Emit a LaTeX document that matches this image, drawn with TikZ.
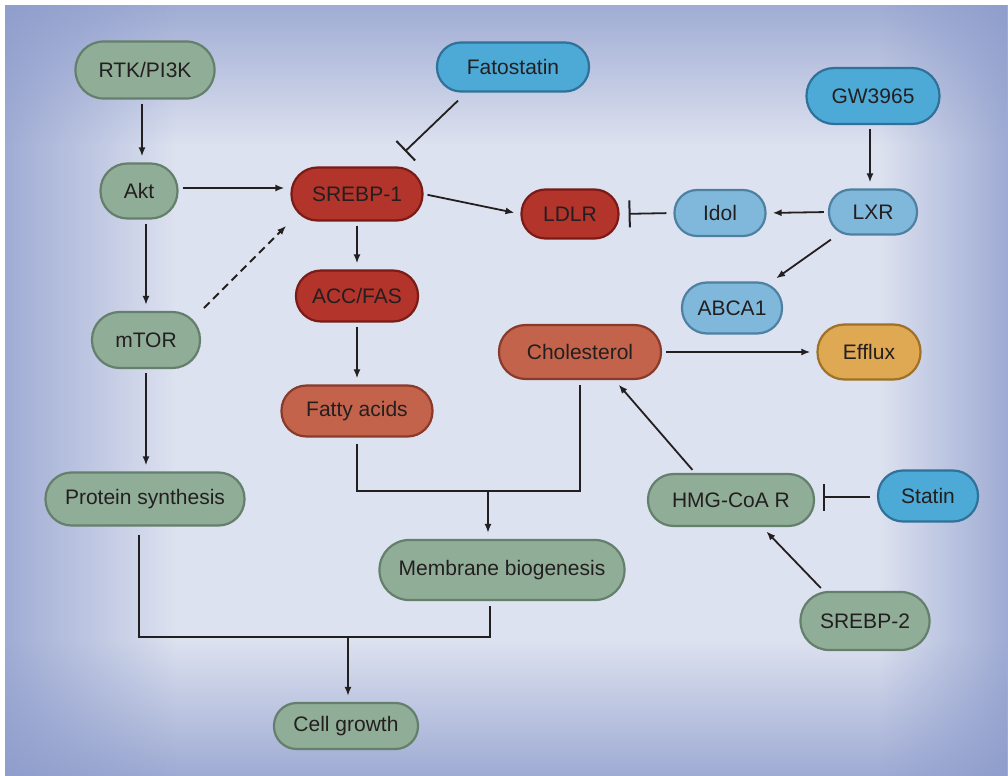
\documentclass[tikz,border=0pt]{standalone}
\usepackage{fontspec}
\setmainfont{Liberation Sans}
\usetikzlibrary{arrows.meta,fadings,calc}
\definecolor{bgc}{HTML}{DDE2F0}
\definecolor{edgec}{HTML}{8A99CA}
\definecolor{txt}{HTML}{231F20}
\definecolor{grnf}{HTML}{90AD97}
\definecolor{grnd}{HTML}{647F6B}
\definecolor{redf}{HTML}{B2342B}
\definecolor{redd}{HTML}{7A1B16}
\definecolor{salf}{HTML}{C3634B}
\definecolor{sald}{HTML}{8A3A2A}
\definecolor{dbluf}{HTML}{4DAAD6}
\definecolor{dblud}{HTML}{2F7198}
\definecolor{lbluf}{HTML}{80B8DB}
\definecolor{lblud}{HTML}{4E80A2}
\definecolor{orgf}{HTML}{DFA853}
\definecolor{orgd}{HTML}{9E7126}
\tikzfading[name=fadetop, top color=transparent!0, bottom color=transparent!100]
\tikzfading[name=fadebot, top color=transparent!100, bottom color=transparent!0]
\tikzfading[name=fadeleft, left color=transparent!0, right color=transparent!100]
\tikzfading[name=faderight, left color=transparent!100, right color=transparent!0]
\tikzset{
  box/.style={rectangle, inner sep=0pt, line width=1.1pt, text=txt, font=\fontsize{10.5}{12}\selectfont},
  grn/.style={box, fill=grnf, draw=grnd},
  red/.style={box, fill=redf, draw=redd},
  sal/.style={box, fill=salf, draw=sald},
  dblu/.style={box, fill=dbluf, draw=dblud},
  lblu/.style={box, fill=lbluf, draw=lblud},
  org/.style={box, fill=orgf, draw=orgd},
  conn/.style={line width=0.9pt, draw=txt, shorten <=2pt, shorten >=3pt},
  arr/.style={conn, -{Latex[length=4.5pt,width=3.5pt]}},
  inh/.style={conn, -{Bar[width=13.5pt,line width=1pt]}},
}
\begin{document}
\begin{tikzpicture}[x=0.5pt,y=-0.5pt]
\useasboundingbox (0,0) rectangle (1008,776);
\fill[white] (0,0) rectangle (1008,776);
\fill[bgc] (5,5) rectangle (1008,776);
\begin{scope}
\clip (5,5) rectangle (1008,776);
\fill[edgec, path fading=fadetop] (0,-45) rectangle (1008,145);
\fill[edgec, path fading=fadebot] (0,640) rectangle (1008,820);
\fill[edgec, path fading=fadeleft] (-55,0) rectangle (175,776);
\fill[edgec, path fading=faderight] (880,0) rectangle (1050,776);
\end{scope}

% nodes
\node[grn, minimum width=69.5pt, minimum height=28.5pt, rounded corners=14pt] (rtk) at (145,70) {RTK/PI3K};
\node[grn, minimum width=38.5pt, minimum height=27.5pt, rounded corners=13.5pt] (akt) at (139,191) {Akt};
\node[grn, minimum width=54pt, minimum height=28pt, rounded corners=13.8pt] (mtor) at (146,340) {mTOR};
\node[grn, minimum width=99.5pt, minimum height=26.5pt, rounded corners=13pt] (ps) at (145,499) {Protein synthesis};
\node[red, minimum width=65.5pt, minimum height=26.5pt, rounded corners=13pt] (sr1) at (357,194) {SREBP-1};
\node[red, minimum width=48.5pt, minimum height=24.5pt, rounded corners=12pt] (ldlr) at (570,214) {LDLR};
\node[red, minimum width=61pt, minimum height=25.5pt, rounded corners=12.5pt] (acc) at (357,296) {ACC/FAS};
\node[sal, minimum width=75.5pt, minimum height=25.5pt, rounded corners=12.5pt] (fa) at (357,411) {Fatty acids};
\node[dblu, minimum width=76pt, minimum height=24.5pt, rounded corners=12pt] (fato) at (513,67) {Fatostatin};
\node[dblu, minimum width=66.5pt, minimum height=28pt, rounded corners=13.8pt] (gw) at (873,96) {GW3965};
\node[lblu, minimum width=45.5pt, minimum height=23pt, rounded corners=11.3pt] (idol) at (720,213) {Idol};
\node[lblu, minimum width=44pt, minimum height=22.5pt, rounded corners=11pt] (lxr) at (873,212) {LXR};
\node[lblu, minimum width=50pt, minimum height=25.5pt, rounded corners=12.5pt] (abca) at (732,308) {ABCA1};
\node[org, minimum width=51.5pt, minimum height=27.5pt, rounded corners=13.5pt] (eff) at (869,352) {Efflux};
\node[sal, minimum width=81pt, minimum height=27pt, rounded corners=13.3pt] (chol) at (580,352) {Cholesterol};
\node[grn, minimum width=83pt, minimum height=26pt, rounded corners=12.8pt] (hmg) at (731,500) {HMG-CoA R};
\node[dblu, minimum width=50pt, minimum height=25.5pt, rounded corners=12.5pt] (stat) at (928,496) {Statin};
\node[grn, minimum width=64.5pt, minimum height=29pt, rounded corners=14.3pt] (sr2) at (865,621) {SREBP-2};
\node[grn, minimum width=122.5pt, minimum height=30pt, rounded corners=14.8pt] (memb) at (502,570) {Membrane biogenesis};
\node[grn, minimum width=72pt, minimum height=23pt, rounded corners=11.3pt] (cg) at (346,726) {Cell growth};

% connectors
\draw[arr] ($(rtk.south)+(-3,0)$) -- ($(rtk.south |- akt.north)+(-3,0)$);
\draw[arr] (akt.east |- 0,188) -- (sr1.west |- 0,188);
\draw[arr] (akt.south -| mtor) -- (mtor.north);
\draw[arr, dash pattern=on 4pt off 2.5pt] (mtor.north east) -- (sr1.south west);
\draw[arr] (mtor.south) -- (mtor.south |- ps.north);
\draw[inh, shorten <=0pt, shorten >=0pt] ($(fato.south)+(-55,8)$) -- ($(sr1.north)+(48,-15)$);
\draw[arr] (sr1.south) -- (acc.north);
\draw[arr] (sr1.east) -- (ldlr.west);
\draw[inh, shorten <=3.5pt, shorten >=4.5pt] (idol.west) -- (ldlr.east);
\draw[arr] (lxr.west) -- (idol.east);
\draw[arr, shorten <=0pt, shorten >=0pt] ($(lxr.south west)+(3,4)$) -- ($(abca.north east)+(-7,-3)$);
\draw[arr] ($(gw.south)+(-3,0)$) -- ($(lxr.north)+(-3,0)$);
\draw[arr] (acc.south) -- (fa.north);
\draw[arr] (chol.east) -- (eff.west);
\draw[arr] (hmg.143) -- (chol.321);
\draw[arr] (sr2.144) -- (hmg.319);
\draw[inh, shorten <=3.5pt, shorten >=4pt] ($(stat.west)+(0,1)$) -- ($(stat.west -| hmg.east)+(0,1)$);

\coordinate (m1) at (488,491);
\draw[conn, shorten >=2.5pt, shorten <=3pt] (fa.south) |- (chol.south |- m1) -- (chol.south);
\draw[arr, shorten <=0pt] (m1) -- (m1 |- memb.north);
\coordinate (m2) at (348,637);
\draw[conn, shorten >=2.5pt, shorten <=4pt] ($(ps.south)+(-6,0)$) |- ($(memb.south |- m2)+(-12,0)$) -- ($(memb.south)+(-12,0)$);
\draw[arr, shorten <=0pt] (m2) -- (m2 |- cg.north);
\end{tikzpicture}
\end{document}
